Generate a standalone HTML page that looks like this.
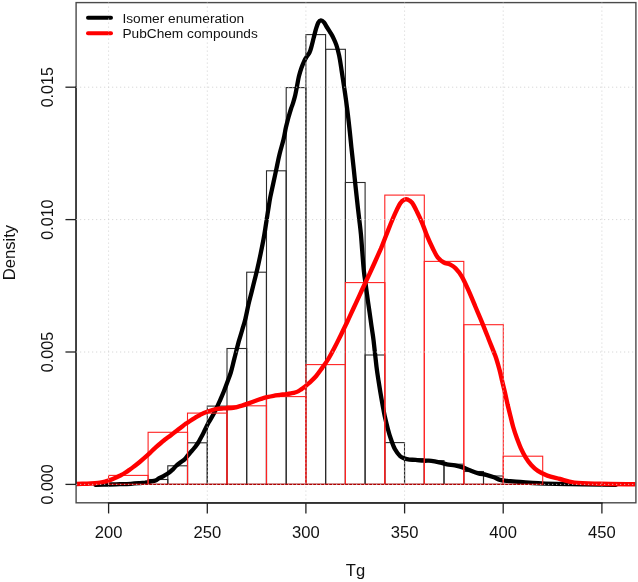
<!DOCTYPE html>
<html><head><meta charset="utf-8"><style>
html,body{margin:0;padding:0;background:#fff;width:638px;height:582px;overflow:hidden}
svg{display:block;filter:blur(0.4px)}
text{font-family:"Liberation Sans",sans-serif;fill:#111}
</style></head><body>
<svg width="638" height="582" viewBox="0 0 638 582">
<rect x="0" y="0" width="638" height="582" fill="#fff"/>
<g fill="none" stroke="#2a2a2a" stroke-width="1.1"><rect x="108.6" y="484.0" width="19.7" height="0.4"/><rect x="128.3" y="483.8" width="19.7" height="0.6"/><rect x="148.1" y="479.5" width="19.7" height="4.9"/><rect x="167.8" y="465.8" width="19.7" height="18.6"/><rect x="187.5" y="442.8" width="19.7" height="41.6"/><rect x="207.3" y="406.1" width="19.7" height="78.3"/><rect x="227.0" y="348.5" width="19.7" height="135.9"/><rect x="246.7" y="272.2" width="19.7" height="212.2"/><rect x="266.5" y="170.8" width="19.7" height="313.6"/><rect x="286.2" y="87.6" width="19.7" height="396.8"/><rect x="305.9" y="34.6" width="19.7" height="449.8"/><rect x="325.7" y="49.3" width="19.7" height="435.1"/><rect x="345.4" y="182.5" width="19.7" height="301.9"/><rect x="365.1" y="355.0" width="19.7" height="129.4"/><rect x="384.8" y="442.6" width="19.7" height="41.8"/><rect x="404.6" y="458.6" width="19.7" height="25.8"/><rect x="424.3" y="460.6" width="19.7" height="23.8"/><rect x="444.0" y="464.2" width="19.7" height="20.2"/><rect x="463.8" y="471.5" width="19.7" height="12.9"/><rect x="483.5" y="476.0" width="19.7" height="8.4"/><rect x="503.2" y="481.5" width="19.7" height="2.9"/><rect x="523.0" y="483.5" width="19.7" height="0.9"/></g>
<path d="M95.5,484.9 C97.7,484.8 104.8,484.6 108.9,484.5 C113.0,484.4 116.2,484.3 119.9,484.2 C123.6,484.1 127.6,484.0 130.9,483.8 C134.2,483.6 137.6,483.3 140.0,483.1 C142.4,482.9 143.5,482.9 145.2,482.7 C146.9,482.4 148.6,482.0 150.3,481.6 C152.0,481.2 154.1,481.0 155.5,480.5 C156.9,480.0 157.5,479.1 158.8,478.4 C160.1,477.7 161.9,477.0 163.5,476.1 C165.1,475.2 166.6,474.4 168.2,473.3 C169.8,472.2 171.6,470.5 172.9,469.3 C174.2,468.1 174.8,467.1 176.0,466.0 C177.2,464.9 178.9,463.6 180.3,462.5 C181.7,461.4 183.3,460.5 184.6,459.3 C185.9,458.1 186.8,456.5 188.0,455.2 C189.2,453.9 190.3,452.6 191.5,451.3 C192.7,450.0 193.8,448.8 194.9,447.3 C196.0,445.8 197.3,444.1 198.3,442.5 C199.3,440.9 200.0,439.4 200.9,437.8 C201.8,436.2 202.7,434.6 203.5,432.9 C204.3,431.2 205.2,429.4 206.0,427.7 C206.8,426.0 207.2,425.2 208.6,422.6 C210.0,420.1 212.6,415.9 214.4,412.4 C216.2,408.9 218.0,404.9 219.5,401.5 C221.0,398.1 222.2,395.5 223.5,392.3 C224.8,389.1 226.0,385.8 227.2,382.5 C228.4,379.2 229.6,376.4 230.8,372.5 C232.0,368.6 233.0,363.9 234.3,358.9 C235.6,353.9 237.2,347.2 238.5,342.4 C239.8,337.6 241.1,333.9 242.2,330.0 C243.3,326.1 244.3,323.5 245.3,319.3 C246.3,315.1 247.4,309.3 248.4,304.8 C249.4,300.3 250.5,296.6 251.5,292.5 C252.5,288.4 253.6,284.2 254.6,280.1 C255.6,276.0 256.6,272.2 257.6,267.7 C258.6,263.2 259.8,257.8 260.7,253.3 C261.6,248.8 262.4,245.0 263.2,240.9 C264.0,236.8 264.7,232.4 265.3,228.6 C265.9,224.8 266.4,221.3 266.9,218.2 C267.4,215.1 267.6,213.5 268.2,210.0 C268.8,206.5 269.4,201.7 270.3,197.2 C271.2,192.7 272.4,187.6 273.4,182.8 C274.4,178.0 275.5,173.2 276.5,168.4 C277.5,163.6 278.4,158.7 279.6,153.9 C280.8,149.1 282.4,144.0 283.5,139.5 C284.6,135.0 285.1,130.9 286.0,127.1 C286.9,123.3 287.8,119.9 288.6,116.8 C289.5,113.7 290.4,110.7 291.1,108.5 C291.8,106.3 292.3,105.5 292.9,103.5 C293.5,101.5 294.2,99.5 294.9,96.6 C295.6,93.7 296.3,89.7 297.0,86.3 C297.7,82.9 298.2,79.1 299.0,76.0 C299.8,72.9 300.6,70.2 301.5,67.7 C302.4,65.2 303.4,62.9 304.2,61.1 C305.0,59.3 305.6,58.5 306.5,57.0 C307.4,55.5 308.8,54.1 309.6,52.3 C310.5,50.5 310.9,48.5 311.6,46.1 C312.3,43.7 313.0,40.5 313.7,37.8 C314.4,35.0 315.1,32.1 315.8,29.6 C316.6,27.1 317.4,24.4 318.2,22.8 C319.0,21.2 319.9,20.4 320.9,20.3 C321.9,20.2 323.0,21.2 324.0,22.4 C325.0,23.6 326.1,25.9 327.1,27.5 C328.1,29.1 329.2,30.6 330.2,32.3 C331.2,34.0 332.3,35.7 333.3,37.8 C334.3,39.9 335.4,42.2 336.4,45.1 C337.4,48.0 338.2,51.3 339.1,55.4 C340.0,59.5 340.7,64.6 341.5,69.8 C342.3,75.0 343.2,81.1 344.0,86.3 C344.8,91.5 345.4,95.7 346.1,100.7 C346.8,105.7 347.4,110.5 348.1,116.5 C348.8,122.5 349.7,130.4 350.3,136.5 C350.9,142.6 351.4,147.5 352.0,153.0 C352.6,158.5 353.2,164.0 353.8,169.5 C354.4,175.0 354.9,180.5 355.5,186.0 C356.1,191.5 356.7,197.0 357.3,202.5 C357.9,208.0 358.6,213.8 359.2,219.0 C359.8,224.2 360.4,228.7 360.9,234.0 C361.4,239.3 361.7,244.4 362.2,250.6 C362.7,256.8 363.3,265.5 363.9,271.2 C364.5,276.9 365.1,280.1 365.7,284.6 C366.3,289.1 366.9,293.4 367.5,298.0 C368.1,302.6 368.9,307.7 369.6,312.5 C370.3,317.3 370.9,322.2 371.6,326.9 C372.3,331.6 372.8,334.1 373.6,340.8 C374.4,347.5 375.7,360.1 376.5,366.8 C377.3,373.5 377.9,376.7 378.6,381.2 C379.3,385.7 379.9,389.6 380.6,393.6 C381.3,397.7 382.0,401.8 382.7,405.5 C383.4,409.2 383.8,412.1 384.7,416.0 C385.6,419.9 386.8,424.9 387.8,428.7 C388.8,432.5 389.7,435.6 390.9,439.0 C392.1,442.4 393.4,446.4 395.0,449.3 C396.6,452.2 398.6,454.7 400.2,456.2 C401.8,457.7 403.2,457.9 404.7,458.5 C406.2,459.1 407.6,459.4 409.4,459.6 C411.2,459.8 413.3,459.7 415.7,459.9 C418.1,460.1 420.9,460.5 423.5,460.7 C426.1,460.9 428.7,460.5 431.3,460.8 C433.9,461.1 436.6,461.7 439.2,462.3 C441.8,462.9 444.4,463.8 447.0,464.3 C449.6,464.8 452.3,464.9 454.9,465.4 C457.5,465.9 460.1,466.5 462.7,467.4 C465.3,468.3 467.9,469.6 470.5,470.6 C473.1,471.6 475.8,472.7 478.4,473.4 C481.0,474.1 483.6,474.2 486.2,474.8 C488.8,475.4 491.7,476.4 494.0,477.2 C496.3,478.0 497.7,479.3 500.0,479.9 C502.3,480.5 504.2,480.5 507.6,480.9 C511.0,481.2 516.0,481.6 520.2,482.0 C524.4,482.4 528.5,482.7 532.7,483.0 C536.9,483.3 539.0,483.4 545.2,483.6 C551.4,483.8 560.9,484.0 570.0,484.2 C579.1,484.4 592.3,484.5 600.0,484.6 C607.7,484.7 613.3,484.8 616.0,484.8" fill="none" stroke="#000" stroke-width="4.3" stroke-linejoin="round" stroke-linecap="round"/>
<g fill="none" stroke="#f22" stroke-width="1.1"><rect x="108.6" y="475.4" width="39.5" height="9.0"/><rect x="148.1" y="432.3" width="39.5" height="52.1"/><rect x="187.5" y="413.1" width="39.5" height="71.3"/><rect x="227.0" y="405.8" width="39.5" height="78.6"/><rect x="266.5" y="396.6" width="39.5" height="87.8"/><rect x="305.9" y="364.6" width="39.5" height="119.8"/><rect x="345.4" y="282.6" width="39.5" height="201.8"/><rect x="384.8" y="195.1" width="39.5" height="289.3"/><rect x="424.3" y="261.4" width="39.5" height="223.0"/><rect x="463.8" y="324.7" width="39.5" height="159.7"/><rect x="503.2" y="456.2" width="39.5" height="28.2"/></g>
<line x1="108.6" y1="484.4" x2="542.7" y2="484.4" stroke="#b00000" stroke-width="1.2"/>
<path d="M76.0,484.0 C77.8,483.9 83.8,483.8 87.0,483.7 C90.2,483.6 92.8,483.4 95.0,483.2 C97.2,483.0 98.3,482.9 100.0,482.6 C101.7,482.3 103.3,482.0 105.0,481.6 C106.7,481.2 108.3,480.7 110.0,480.1 C111.7,479.5 113.3,478.9 115.0,478.1 C116.7,477.3 118.5,476.4 120.3,475.5 C122.0,474.6 123.8,473.6 125.5,472.5 C127.2,471.4 129.0,470.1 130.6,469.0 C132.2,467.9 133.4,466.9 135.0,465.7 C136.6,464.5 138.3,463.1 140.0,461.7 C141.7,460.3 143.3,458.9 145.0,457.4 C146.7,455.9 148.3,454.4 150.0,452.8 C151.7,451.2 153.2,449.7 155.0,448.1 C156.8,446.5 158.9,444.6 160.6,443.2 C162.3,441.8 163.3,440.8 165.0,439.5 C166.7,438.2 169.1,436.6 170.9,435.2 C172.8,433.8 174.4,432.5 176.1,431.2 C177.8,429.9 179.3,428.7 181.0,427.4 C182.7,426.1 184.5,424.7 186.0,423.6 C187.5,422.5 188.5,422.0 190.0,421.0 C191.5,420.0 193.3,418.8 195.0,417.8 C196.7,416.8 197.9,415.9 200.0,414.9 C202.1,413.8 205.2,412.4 207.8,411.5 C210.4,410.6 213.1,409.7 215.7,409.2 C218.3,408.7 220.9,408.6 223.5,408.4 C226.1,408.2 229.2,408.3 231.3,408.1 C233.4,407.9 234.2,407.7 236.0,407.3 C237.8,406.9 239.9,406.2 242.0,405.6 C244.1,405.0 246.3,404.2 248.5,403.4 C250.7,402.6 252.9,401.8 255.0,401.0 C257.1,400.2 259.0,399.5 261.0,398.9 C263.0,398.3 264.9,397.7 267.0,397.2 C269.1,396.7 271.4,396.2 273.6,395.8 C275.8,395.4 277.9,395.2 280.0,394.9 C282.1,394.6 284.4,394.4 286.2,394.1 C288.0,393.9 289.5,393.7 291.0,393.4 C292.5,393.1 293.8,392.9 295.0,392.5 C296.2,392.1 297.5,391.6 298.5,391.1 C299.5,390.6 300.3,390.0 301.2,389.4 C302.1,388.8 303.0,388.2 303.8,387.6 C304.6,387.0 305.0,386.6 306.2,385.5 C307.4,384.4 309.5,382.7 311.2,381.1 C312.9,379.5 314.3,378.2 316.2,376.0 C318.1,373.8 320.3,370.5 322.4,367.6 C324.5,364.7 326.6,361.9 328.6,358.5 C330.7,355.1 332.6,351.2 334.7,347.3 C336.8,343.4 338.8,339.1 340.9,334.9 C343.0,330.7 345.0,326.5 347.1,322.2 C349.2,317.9 351.2,313.3 353.3,308.8 C355.4,304.3 357.4,299.8 359.5,295.3 C361.6,290.8 363.9,285.8 365.7,282.0 C367.4,278.2 368.5,276.1 370.0,272.8 C371.5,269.6 372.9,266.5 374.7,262.5 C376.5,258.5 379.1,252.7 380.9,248.6 C382.6,244.5 383.6,241.7 385.2,237.7 C386.8,233.7 388.6,229.0 390.3,224.8 C392.0,220.6 393.8,216.2 395.5,212.6 C397.2,209.0 398.8,205.5 400.3,203.3 C401.8,201.1 403.4,200.2 404.7,199.6 C405.9,199.0 406.6,199.1 407.8,199.6 C409.0,200.1 410.4,200.6 412.0,202.7 C413.6,204.8 415.4,208.6 417.1,212.0 C418.8,215.4 420.6,219.2 422.3,223.3 C424.0,227.4 425.7,232.6 427.4,236.7 C429.1,240.8 430.9,244.6 432.6,248.0 C434.3,251.4 435.8,254.9 437.7,257.3 C439.6,259.7 441.8,261.3 443.9,262.5 C446.0,263.7 448.2,263.5 450.1,264.5 C452.0,265.5 453.6,266.3 455.5,268.3 C457.4,270.3 459.6,272.7 461.7,276.3 C463.8,279.9 466.2,285.2 468.4,290.2 C470.6,295.1 472.9,300.7 475.1,306.0 C477.3,311.3 479.6,316.4 481.8,321.8 C484.0,327.2 486.3,333.1 488.5,338.7 C490.7,344.3 493.3,350.4 495.2,355.6 C497.1,360.9 498.4,365.8 499.6,370.2 C500.8,374.6 501.5,378.5 502.4,382.0 C503.2,385.5 503.8,387.6 504.7,391.4 C505.6,395.2 506.7,400.5 507.6,404.6 C508.6,408.7 509.5,412.3 510.4,416.0 C511.3,419.7 512.1,423.2 513.2,427.0 C514.3,430.8 515.7,435.0 517.0,438.5 C518.3,442.0 519.4,445.0 520.8,448.1 C522.2,451.2 523.9,454.6 525.6,457.4 C527.3,460.2 529.2,462.8 531.2,465.0 C533.2,467.2 535.2,469.1 537.9,470.9 C540.6,472.7 543.6,474.2 547.3,475.6 C551.0,477.0 555.5,477.8 560.0,479.0 C564.5,480.2 567.8,481.8 574.5,482.6 C581.2,483.4 589.9,483.5 600.0,483.8 C610.1,484.1 629.5,484.2 635.4,484.3" fill="none" stroke="#f00" stroke-width="4.4" stroke-linejoin="round" stroke-linecap="butt"/>
<rect x="76.1" y="2.6" width="559.8" height="500.2" fill="none" stroke="#4a4a4a" stroke-width="1.4"/>
<g stroke="#222" stroke-width="1.3" stroke-linecap="square"><line x1="108.6" y1="503" x2="601.9" y2="503"/><line x1="108.6" y1="503" x2="108.6" y2="512.8"/><line x1="207.3" y1="503" x2="207.3" y2="512.8"/><line x1="305.9" y1="503" x2="305.9" y2="512.8"/><line x1="404.6" y1="503" x2="404.6" y2="512.8"/><line x1="503.2" y1="503" x2="503.2" y2="512.8"/><line x1="601.9" y1="503" x2="601.9" y2="512.8"/><line x1="76" y1="484.4" x2="76" y2="87.2"/><line x1="66.1" y1="484.4" x2="76" y2="484.4"/><line x1="66.1" y1="352.0" x2="76" y2="352.0"/><line x1="66.1" y1="219.6" x2="76" y2="219.6"/><line x1="66.1" y1="87.2" x2="76" y2="87.2"/></g>
<g font-size="16.6" text-anchor="middle"><text x="108.6" y="538">200</text><text x="207.3" y="538">250</text><text x="305.9" y="538">300</text><text x="404.6" y="538">350</text><text x="503.2" y="538">400</text><text x="601.9" y="538">450</text></g>
<g font-size="16.1" text-anchor="middle"><text transform="translate(53.2,484.4) rotate(-90)">0.000</text><text transform="translate(53.2,352.0) rotate(-90)">0.005</text><text transform="translate(53.2,219.6) rotate(-90)">0.010</text><text transform="translate(53.2,87.2) rotate(-90)">0.015</text></g>
<text x="355.5" y="576.3" font-size="16.6" text-anchor="middle">Tg</text>
<text transform="translate(14.9,252.5) rotate(-90)" font-size="16.6" text-anchor="middle">Density</text>
<line x1="88" y1="17.8" x2="111" y2="17.8" stroke="#000" stroke-width="4" stroke-linecap="round"/>
<line x1="88" y1="33.3" x2="111" y2="33.3" stroke="#f00" stroke-width="4" stroke-linecap="round"/>
<text x="122.4" y="22.7" font-size="13.7">Isomer enumeration</text>
<text x="122.4" y="37.8" font-size="13.7">PubChem compounds</text>
<g stroke="#cfcfcf" stroke-width="1" stroke-dasharray="1 3"><line x1="108.6" y1="2.6" x2="108.6" y2="502.7"/><line x1="207.3" y1="2.6" x2="207.3" y2="502.7"/><line x1="305.9" y1="2.6" x2="305.9" y2="502.7"/><line x1="404.6" y1="2.6" x2="404.6" y2="502.7"/><line x1="503.2" y1="2.6" x2="503.2" y2="502.7"/><line x1="601.9" y1="2.6" x2="601.9" y2="502.7"/><line x1="76.2" y1="484.4" x2="635.8" y2="484.4"/><line x1="76.2" y1="352.0" x2="635.8" y2="352.0"/><line x1="76.2" y1="219.6" x2="635.8" y2="219.6"/><line x1="76.2" y1="87.2" x2="635.8" y2="87.2"/></g>
</svg>
</body></html>
